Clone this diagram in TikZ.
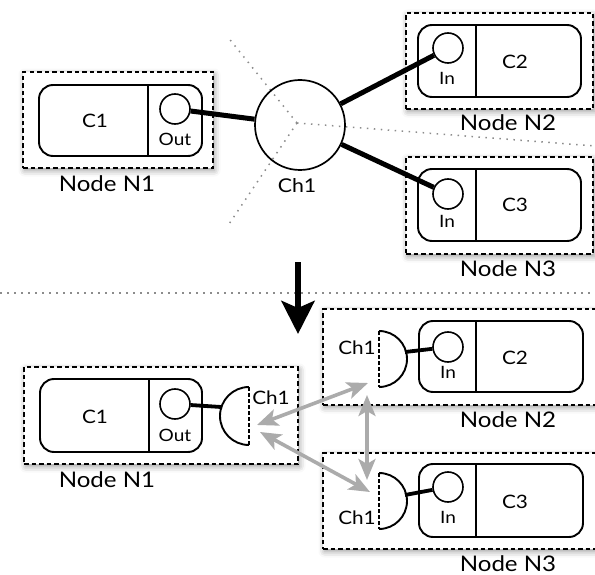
\documentclass[tikz,border=0pt]{standalone}
\usepackage{fontspec}
\setmainfont{Lato}[FakeStretch=1.12]
\usetikzlibrary{arrows.meta,shadows.blur}
\begin{document}
\begin{tikzpicture}[x=1pt,y=-1pt,
  nodebox/.style={draw, line width=1.8pt, dash pattern=on 4.5pt off 3pt, fill=white,
    blur shadow={shadow blur radius=6pt, shadow xshift=1.5pt, shadow yshift=-2.5pt, shadow opacity=40},
    inner sep=0pt},
  comp/.style={draw, line width=1.9pt, rounded corners=14pt, fill=white, inner sep=0pt},
  divider/.style={line width=1.6pt},
  port/.style={circle, draw, line width=1.6pt, minimum size=30pt, inner sep=0pt},
  chan/.style={circle, draw, line width=1.7pt, minimum size=90pt, inner sep=0pt},
  halfch/.style={line width=1.9pt},
  flatside/.style={line width=1.5pt, dash pattern=on 3.5pt off 2.5pt},
  wire/.style={line width=5pt},
  wireb/.style={line width=3.8pt},
  dotline/.style={draw=black!45, line width=1.5pt, dash pattern=on 1.5pt off 5.5pt},
  grayarrow/.style={draw=black!33, line width=3.6pt, {Stealth[length=21pt,width=17pt,inset=5pt]}-{Stealth[length=21pt,width=17pt,inset=5pt]}},
  bigarrow/.style={line width=6pt, -{Stealth[length=33pt,width=33pt,inset=7pt]}},
  lbl/.style={font=\fontsize{21.5}{21.5}\selectfont, inner sep=0pt},
  ctxt/.style={font=\fontsize{18.5}{18.5}\selectfont, inner sep=0pt},
  ptxt/.style={font=\fontsize{17}{17}\selectfont, inner sep=0pt},
  chtxt/.style={font=\fontsize{19}{19}\selectfont, inner sep=0pt},
]
\useasboundingbox (0,0) rectangle (595,575);

% ---------------- top half ----------------
\node[nodebox, minimum width=190pt, minimum height=96pt] (n1) at (118,120) {};
\node[nodebox, minimum width=187pt, minimum height=96pt] (n2) at (499.5,61) {};
\node[nodebox, minimum width=187pt, minimum height=97pt] (n3) at (499.5,205.5) {};

% dotted partition lines
\coordinate (hub) at (297,123);
\coordinate (dA) at (227,36);
\coordinate (dB) at (227,227);
\coordinate (dC) at (595,146);
\draw[dotline] (hub) -- (dA);
\draw[dotline] (hub) -- (dB);
\draw[dotline] (hub) -- (dC);

% components
\node[comp, minimum width=163pt, minimum height=71pt] (c1) at (120.5,120.5) {};
\draw[divider] (148,85) -- (148,156);
\node[ctxt] (c1t) at (95,121) {C1};
\node[port] (out1) at (175,109) {};
\node[ptxt] (out1t) at (175,139) {Out};

\node[comp, minimum width=163pt, minimum height=72pt] (c2) at (499.5,61) {};
\draw[divider] (476,25) -- (476,97);
\node[ctxt] (c2t) at (515,62) {C2};
\node[port] (in2) at (448,48) {};
\node[ptxt] (in2t) at (447,78) {In};

\node[comp, minimum width=163pt, minimum height=72pt] (c3) at (499.5,205) {};
\draw[divider] (476,169) -- (476,241);
\node[ctxt] (c3t) at (515,205) {C3};
\node[port] (in3) at (448,194) {};
\node[ptxt] (in3t) at (447,221) {In};

% channel
\node[chan] (ch) at (300,125) {};
\node[chtxt] (cht) at (297,186) {Ch1};

\draw[wire] (out1) -- (ch);
\draw[wire] (ch) -- (in2);
\draw[wire] (ch) -- (in3);

\node[lbl] (n1l) at (107,184) {Node N1};
\node[lbl] (n2l) at (508,123) {Node N2};
\node[lbl] (n3l) at (508,269) {Node N3};

% separator and big arrow
\coordinate (sepL) at (0,293);
\coordinate (sepR) at (595,293);
\draw[dotline] (sepL) -- (sepR);
\coordinate (aTop) at (298,262);
\coordinate (aTip) at (298,334);
\draw[bigarrow] (aTop) -- (aTip);

% ---------------- bottom half ----------------
\node[nodebox, minimum width=274pt, minimum height=97pt] (bn1) at (161,415.5) {};
\node[nodebox, minimum width=280pt, minimum height=96pt] (bn2) at (463,357) {};
\node[nodebox, minimum width=280pt, minimum height=96pt] (bn3) at (463,501) {};

% N1 bottom
\node[comp, minimum width=162pt, minimum height=73pt] (bc1) at (121,415.5) {};
\draw[divider] (149,379) -- (149,452);
\node[ctxt] (bc1t) at (95,417) {C1};
\node[port] (bout1) at (175,404) {};
\node[ptxt] (bout1t) at (175,435) {Out};
\draw[halfch] (249,387) arc[start angle=270, end angle=90, radius=29];
\draw[flatside] (249,387) -- (249,445);
\coordinate (h1) at (221,407);
\node[ctxt] (h1t) at (271,398) {Ch1};
\draw[wireb] (bout1) -- (h1);

% N2 bottom
\node[comp, minimum width=164pt, minimum height=71pt] (bc2) at (501,356.5) {};
\draw[divider] (476,321) -- (476,392);
\node[ctxt] (bc2t) at (515,358) {C2};
\node[port] (bin2) at (448,347) {};
\node[ptxt] (bin2t) at (448,372) {In};
\draw[halfch] (379,331) arc[start angle=-90, end angle=90, radius=28];
\draw[flatside] (379,331) -- (379,387);
\coordinate (h2) at (405,352);
\node[ctxt] (h2t) at (357,348) {Ch1};
\draw[wireb] (h2) -- (bin2);

% N3 bottom
\node[comp, minimum width=164pt, minimum height=73pt] (bc3) at (501,500.5) {};
\draw[divider] (476,464) -- (476,537);
\node[ctxt] (bc3t) at (515,502) {C3};
\node[port] (bin3) at (448,487) {};
\node[ptxt] (bin3t) at (448,517) {In};
\draw[halfch] (379,473) arc[start angle=-90, end angle=90, radius=28];
\draw[flatside] (379,473) -- (379,529);
\coordinate (h3) at (405,495);
\node[ctxt] (h3t) at (357,518) {Ch1};
\draw[wireb] (h3) -- (bin3);

\node[lbl] (bn1l) at (107,480) {Node N1};
\node[lbl] (bn2l) at (508,420) {Node N2};
\node[lbl] (bn3l) at (508,564) {Node N3};

% gray broadcast arrows
\coordinate (g1a) at (257,425);
\coordinate (g1b) at (368,383);
\coordinate (g2a) at (260,432);
\coordinate (g2b) at (370,492);
\coordinate (g3a) at (367,395);
\coordinate (g3b) at (367,480);
\draw[grayarrow] (g1a) -- (g1b);
\draw[grayarrow] (g2a) -- (g2b);
\draw[grayarrow] (g3a) -- (g3b);
\end{tikzpicture}
\end{document}
